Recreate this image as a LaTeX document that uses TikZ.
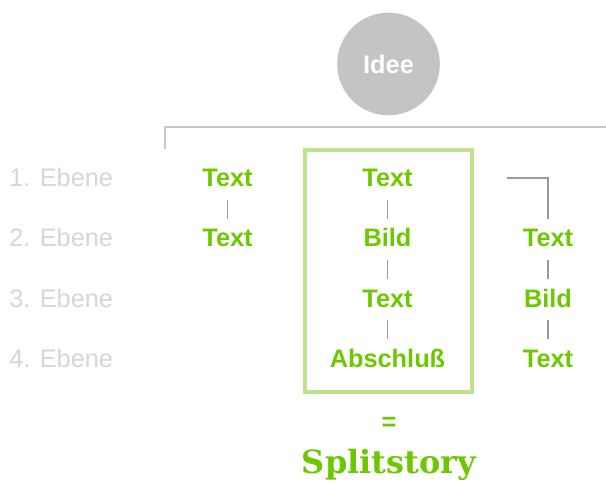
\documentclass[tikz,border=0pt]{standalone}
\usepackage{fontspec}
\setmainfont{Liberation Sans}
\newfontfamily\slabfont{DejaVu Serif}
\definecolor{sgreen}{HTML}{6CC800}
\definecolor{boxgreen}{HTML}{BCE48C}
\definecolor{bracketgray}{HTML}{C8C8C8}
\definecolor{conngray}{HTML}{9A9A9A}
\definecolor{levelgray}{HTML}{D6D6D6}
\definecolor{circlegray}{HTML}{C4C4C4}
\tikzset{
  item/.style={text=sgreen, font=\fontsize{19}{21}\selectfont\bfseries, anchor=base, inner sep=0pt, text height=13pt, text depth=0pt},
  level/.style={text=levelgray, font=\fontsize{19}{21}\selectfont, anchor=base west, inner sep=0pt},
  conn/.style={draw=conngray, line width=1.1pt, shorten <=9.5pt, shorten >=8pt},
  bracket/.style={draw=bracketgray, line width=2.2pt},
  storybox/.style={draw=boxgreen, line width=2.4pt}
}
\begin{document}
\begin{tikzpicture}[x=0.75pt,y=-0.75pt]
\useasboundingbox (0,0) rectangle (606,484);
% idea circle
\node[circle, fill=circlegray, minimum size=77pt, inner sep=0pt, text=white, font=\fontsize{19}{21}\selectfont\bfseries] (idee) at (388.5,64) {Idee};
% bracket
\coordinate (bl) at (165,149);
\coordinate (br) at (606,127);
\draw[bracket] (bl) |- (br);
% story box
\draw[storybox] (305,150) rectangle (472,392);
% levels
\node[level] (l1) at (9,187) {1. Ebene};
\node[level] (l2) at (9,247) {2. Ebene};
\node[level] (l3) at (9,307) {3. Ebene};
\node[level] (l4) at (9,367) {4. Ebene};
% column 1
\node[item] (a1) at (227.5,187) {Text};
\node[item] (a2) at (227.5,247) {Text};
% column 2
\node[item] (b1) at (387.5,187) {Text};
\node[item] (b2) at (387.5,247) {Bild};
\node[item] (b3) at (387.5,307) {Text};
\node[item] (b4) at (387.5,367) {Abschluß};
% column 3
\node[item] (c2) at (548,247) {Text};
\node[item] (c3) at (548,307) {Bild};
\node[item] (c4) at (548,367) {Text};
\coordinate (cs) at (507,178);
% connectors
\draw[conn] (a1) -- (a2);
\draw[conn] (b1) -- (b2);
\draw[conn] (b2) -- (b3);
\draw[conn] (b3) -- (b4);
\draw[conn] (c2) -- (c3);
\draw[conn] (c3) -- (c4);
\draw[conn, shorten <=0pt] (cs) -| (c2);
% result
\node[item] (eq) at (389,430) {=};
\node[text=sgreen, font=\fontsize{24}{26}\selectfont\slabfont\bfseries, anchor=base, inner sep=0pt] (split) at (389,473) {Splitstory};
\end{tikzpicture}
\end{document}
